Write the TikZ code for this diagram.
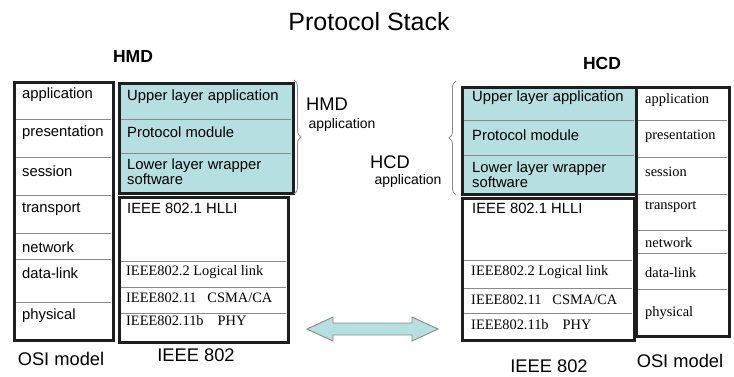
\documentclass[tikz,border=0pt]{standalone}
\usepackage{fontspec}
\setmainfont{Liberation Sans}
\newfontfamily\tms{Liberation Serif}
\usetikzlibrary{decorations.pathreplacing}
\definecolor{teal1}{HTML}{B6DFE2}
\definecolor{frame}{HTML}{1E1E1E}
\definecolor{inner}{HTML}{8A8A8A}
\tikzset{
  outerbox/.style={draw=frame, line width=3pt, anchor=north west, inner sep=0pt},
  appbox/.style={outerbox, fill=teal1},
  sepline/.style={draw=inner, line width=1pt},
  lbl/.style={anchor=west, inner sep=0pt, font=\fontsize{14.8}{16}\selectfont},
  tlbl/.style={anchor=west, inner sep=0pt, font=\tms\fontsize{14.4}{16}\selectfont},
  captxt/.style={inner sep=0pt, font=\fontsize{18.3}{20}\selectfont},
  headtxt/.style={inner sep=0pt, font=\bfseries\fontsize{17.5}{20}\selectfont},
  brc/.style={draw=inner, line width=0.8pt, decorate, decoration={brace, amplitude=7pt}},
}
\begin{document}
\begin{tikzpicture}[x=1pt,y=-1pt]
\useasboundingbox (0,0) rectangle (734,376);
\fill[white] (0,0) rectangle (734,376);

\node[inner sep=0pt, font=\fontsize{25}{28}\selectfont] (title) at (369,22) {Protocol Stack};
\node[headtxt] (hmd) at (133,56) {HMD};
\node[headtxt] (hcd) at (602,63) {HCD};

% ---------- left side ----------
\node[outerbox, minimum width=99pt, minimum height=258pt] (osiL) at (13,81) {};
\foreach \y in {119,157,195,233,259,302} \draw[sepline] (14,\y) -- (111,\y);
\node[outerbox, minimum width=99pt, minimum height=258pt] at (13,81) {};
\node[lbl] (la1) at (22,95) {application};
\node[lbl] (la2) at (22,133) {presentation};
\node[lbl] (la3) at (22,171) {session};
\node[lbl] (la4) at (22,209) {transport};
\node[lbl] (la5) at (22,247) {network};
\node[lbl] (la6) at (22,273) {data-link};
\node[lbl] (la7) at (22,316) {physical};

\node[appbox, minimum width=174pt, minimum height=110pt] (hmdapp) at (118,82) {};
\foreach \y in {119,153} \draw[sepline] (119,\y) -- (291,\y);
\node[outerbox, minimum width=174pt, minimum height=110pt] at (118,82) {};
\node[lbl] (lh1) at (127,97) {Upper layer application};
\node[lbl] (lh2) at (127,132) {Protocol module};
\node[lbl, align=left] (lh3) at (127,172) {Lower layer wrapper\\[-1pt]software};

\node[outerbox, minimum width=169pt, minimum height=145pt] (ieeeL) at (118,196) {};
\foreach \y in {261,287,313} \draw[sepline] (119,\y) -- (286,\y);
\node[outerbox, minimum width=169pt, minimum height=145pt] at (118,196) {};
\node[lbl] (li1) at (127,208) {IEEE 802.1 HLLI};
\node[tlbl] (li2) at (126,272) {IEEE802.2 Logical link};
\node[tlbl] (li3) at (126,298) {IEEE802.11\hspace{11pt}CSMA/CA};
\node[tlbl] (li4) at (126,321) {IEEE802.11b\hspace{14pt}PHY};

\node[captxt] (osiLc) at (61,359) {OSI model};
\node[captxt] (ieeeLc) at (196,355) {IEEE 802};

\draw[brc] (294,80) -- (294,194) coordinate[midway] (bl);
\node[captxt] (hmdlbl) at (327,104) {HMD};
\node[inner sep=0pt, font=\fontsize{14}{16}\selectfont] (hmdlbl2) at (342,125) {application};

% ---------- right side ----------
\node[appbox, minimum width=174pt, minimum height=107pt] (hcdapp) at (461,86) {};
\foreach \y in {120,155} \draw[sepline] (462,\y) -- (634,\y);
\node[outerbox, minimum width=174pt, minimum height=107pt] at (461,86) {};
\node[lbl] (rh1) at (472,98) {Upper layer application};
\node[lbl] (rh2) at (472,135) {Protocol module};
\node[lbl, align=left] (rh3) at (472,175) {Lower layer wrapper\\[-1pt]software};

\node[outerbox, minimum width=93pt, minimum height=249pt] (osiR) at (635,86) {};
\foreach \y in {120,157,194,230,253,289} \draw[sepline] (636,\y) -- (727,\y);
\node[outerbox, minimum width=93pt, minimum height=249pt] at (635,86) {};
\node[tlbl] (ra1) at (645,100) {application};
\node[tlbl] (ra2) at (645,136) {presentation};
\node[tlbl] (ra3) at (645,172) {session};
\node[tlbl] (ra4) at (645,207) {transport};
\node[tlbl] (ra5) at (645,243) {network};
\node[tlbl] (ra6) at (645,273) {data-link};
\node[tlbl] (ra7) at (645,313) {physical};

\node[outerbox, minimum width=172pt, minimum height=142pt] (ieeeR) at (461,197) {};
\foreach \y in {260,288,313} \draw[sepline] (462,\y) -- (632,\y);
\node[outerbox, minimum width=172pt, minimum height=142pt] at (461,197) {};
\node[lbl] (ri1) at (472,208) {IEEE 802.1 HLLI};
\node[tlbl] (ri2) at (471,272) {IEEE802.2 Logical link};
\node[tlbl] (ri3) at (471,300) {IEEE802.11\hspace{11pt}CSMA/CA};
\node[tlbl] (ri4) at (471,325) {IEEE802.11b\hspace{14pt}PHY};

\node[captxt] (osiRc) at (680,361) {OSI model};
\node[captxt] (ieeeRc) at (549,366) {IEEE 802};

\draw[brc] (456,195) -- (456,81) coordinate[midway] (br);
\node[captxt] (hcdlbl) at (390,162) {HCD};
\node[inner sep=0pt, font=\fontsize{14}{16}\selectfont] (hcdlbl2) at (408,181) {application};

% ---------- double arrow ----------
\draw[draw=inner, line width=0.9pt, fill=teal1, line join=miter]
  (307,329) -- (333,317) -- (333,323) -- (412,323) -- (412,317) -- (438,329)
  -- (412,341) -- (412,335) -- (333,335) -- (333,341) -- cycle;
\end{tikzpicture}
\end{document}
